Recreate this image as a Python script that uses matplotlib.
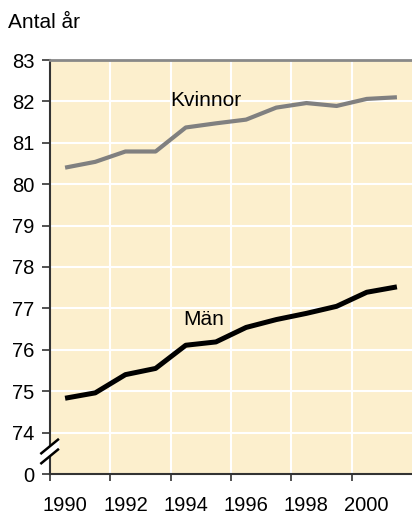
import matplotlib
matplotlib.use("Agg")
import matplotlib.pyplot as plt
from matplotlib.ticker import FixedLocator, FixedFormatter, NullFormatter
from matplotlib.patches import Polygon

years = [1990, 1991, 1992, 1993, 1994, 1995, 1996, 1997, 1998, 1999, 2000, 2001]
kvinnor = [80.40, 80.54, 80.79, 80.79, 81.37, 81.47, 81.56, 81.85, 81.96, 81.89, 82.06, 82.10]
man = [74.83, 74.96, 75.40, 75.55, 76.11, 76.19, 76.54, 76.73, 76.88, 77.05, 77.39, 77.52]
ytick_values = [73, 74, 75, 76, 77, 78, 79, 80, 81, 82, 83]
ytick_labels = ["0", "74", "75", "76", "77", "78", "79", "80", "81", "82", "83"]
xtick_labels = ["1990", "1992", "1994", "1996", "1998", "2000"]

plt.rcParams['font.family'] = ['Liberation Sans', 'DejaVu Sans']

fig = plt.figure(figsize=(4.12, 5.13), dpi=100)
ax = fig.add_axes([50/412, 1-474/513, 1-50/412, (474-60)/513])
ax.set_facecolor('#FCEFCD')

x = list(range(len(years)))
ax.plot(x, kvinnor, color='#808080', lw=3.0, solid_capstyle='butt', zorder=3)
ax.plot(x, man, color='black', lw=3.6, solid_capstyle='butt', zorder=3)

ax.text(4.67, 81.895, "Kvinnor", fontsize=15, ha='center', va='baseline', zorder=4)
ax.text(4.59, 76.61, "Män", fontsize=15, ha='center', va='baseline', zorder=4)

ax.set_xlim(-0.5, 11.5)
ax.set_ylim(73, 83)

major_x = [-0.5, 1.5, 3.5, 5.5, 7.5, 9.5]
ax.xaxis.set_major_locator(FixedLocator(major_x))
ax.xaxis.set_major_formatter(NullFormatter())
label_pos = [years.index(int(t)) for t in xtick_labels]
ax.xaxis.set_minor_locator(FixedLocator(label_pos))
ax.xaxis.set_minor_formatter(FixedFormatter(xtick_labels))
ax.tick_params(axis='x', which='major', length=5, width=1.2, color='#333333')
ax.tick_params(axis='x', which='minor', length=0, pad=15.5, labelsize=14.5)

ax.set_yticks(ytick_values)
ax.set_yticklabels(ytick_labels)
ax.tick_params(axis='y', length=6, width=1.2, color='#333333', pad=5, labelsize=14.5)

for v in major_x[1:]:
    ax.axvline(v, color='white', lw=1.5, zorder=1)
for v in ytick_values[1:-1]:
    ax.axhline(v, color='white', lw=1.5, zorder=1)

for s in ['left', 'bottom']:
    ax.spines[s].set_color('#333333')
    ax.spines[s].set_linewidth(1.5)
ax.spines['top'].set_color('#888888')
ax.spines['top'].set_linewidth(2)
ax.spines['right'].set_visible(False)

# axis break marks
trans = ax.get_yaxis_transform()
dx = 0.026
poly = Polygon([(-dx, 73.43 - 0.16), (dx, 73.43 + 0.16), (dx, 73.67 + 0.16), (-dx, 73.67 - 0.16)],
               closed=True, transform=trans, facecolor='white', edgecolor='none',
               clip_on=False, zorder=5)
ax.add_patch(poly)
for yc in [73.43, 73.67]:
    ax.plot([-0.024, 0.022], [yc - 0.17, yc + 0.16], color='black', lw=1.8,
            transform=trans, clip_on=False, zorder=6)

fig.text(8/412, 1-28/513, "Antal år", fontsize=15, ha='left', va='baseline')

fig.savefig("out.png", dpi=100)
